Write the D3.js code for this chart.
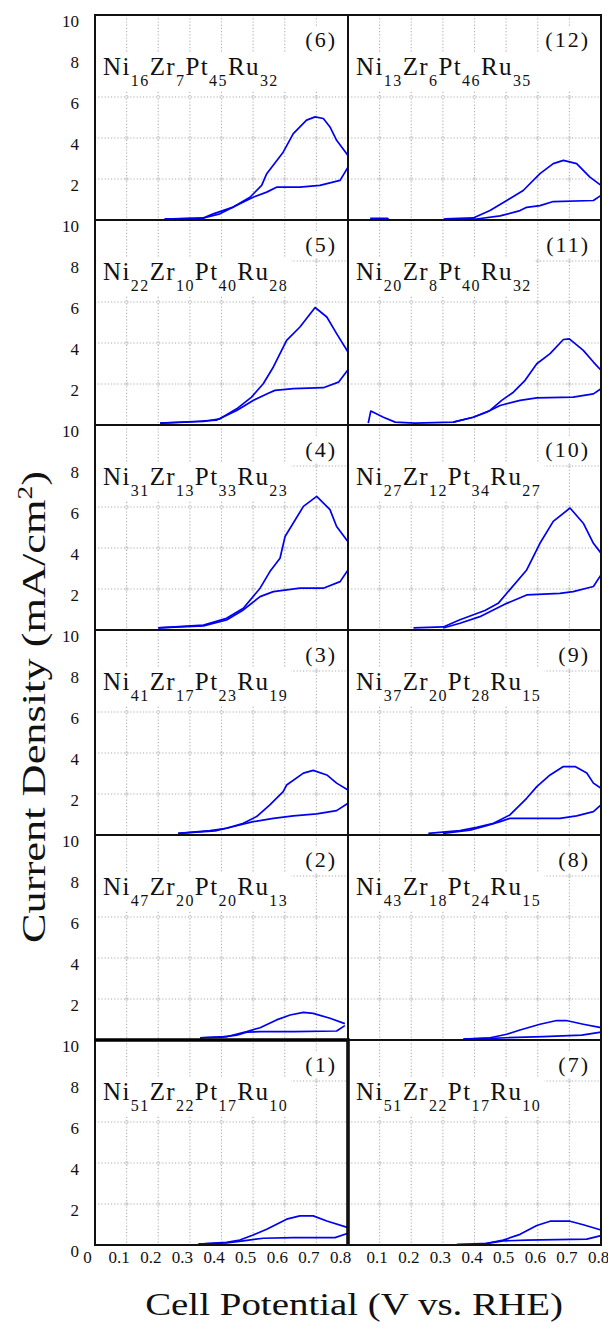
<!DOCTYPE html>
<html><head><meta charset="utf-8">
<script src="https://cdn.jsdelivr.net/npm/d3@7"></script>
<style>body{margin:0;background:#fff}svg{display:block}</style>
</head><body>
<svg id="chart" width="608" height="1328"></svg>
<script>
// ---------- data ----------
const xTickValues = [0, 0.1, 0.2, 0.3, 0.4, 0.5, 0.6, 0.7, 0.8];
const yTickValues = [0, 2, 4, 6, 8, 10];
const gridOrder = [[6, 12], [5, 11], [4, 10], [3, 9], [2, 8], [1, 7]];
const formulas = {
  1: "Ni51Zr22Pt17Ru10", 2: "Ni47Zr20Pt20Ru13", 3: "Ni41Zr17Pt23Ru19",
  4: "Ni31Zr13Pt33Ru23", 5: "Ni22Zr10Pt40Ru28", 6: "Ni16Zr7Pt45Ru32",
  7: "Ni51Zr22Pt17Ru10", 8: "Ni43Zr18Pt24Ru15", 9: "Ni37Zr20Pt28Ru15",
  10: "Ni27Zr12Pt34Ru27", 11: "Ni20Zr8Pt40Ru32", 12: "Ni13Zr6Pt46Ru35"
};
const xTitle = "Cell Potential (V vs. RHE)";
const yTitleMain = "Current Density (mA/cm";
const yTitleSup = "2";

// forward (anodic) and reverse scans: [potential V, current mA/cm2]
const p6Fwd = [[0.22,0.05],[0.34,0.08],[0.374,0.3],[0.437,0.63],[0.49,1.11],[0.527,1.69],[0.543,2.26],[0.595,3.31],[0.627,4.21],[0.669,4.87],[0.696,5.03],[0.722,4.95],[0.743,4.54],[0.764,3.89],[0.8,3.15]];
const p6Rev = [[0.8,2.58],[0.775,1.93],[0.711,1.69],[0.648,1.6],[0.574,1.6],[0.543,1.36],[0.5,1.11],[0.458,0.79],[0.395,0.3],[0.343,0.1],[0.22,0.05]];
const p5Fwd = [[0.206,0.09],[0.343,0.17],[0.395,0.3],[0.448,0.79],[0.495,1.36],[0.532,2.01],[0.564,2.83],[0.606,4.13],[0.648,4.78],[0.696,5.73],[0.733,5.27],[0.764,4.46],[0.8,3.56]];
const p5Rev = [[0.8,2.7],[0.77,2.09],[0.722,1.82],[0.627,1.77],[0.569,1.69],[0.548,1.55],[0.5,1.2],[0.448,0.71],[0.385,0.24],[0.311,0.17],[0.206,0.09]];
const p4Fwd = [[0.2,0.1],[0.343,0.24],[0.416,0.57],[0.469,1.06],[0.522,2.04],[0.553,2.85],[0.585,3.5],[0.601,4.56],[0.659,6.03],[0.701,6.52],[0.743,5.87],[0.764,5.05],[0.8,4.3]];
const p4Rev = [[0.8,2.93],[0.775,2.36],[0.722,2.04],[0.648,2.04],[0.564,1.87],[0.522,1.63],[0.469,0.98],[0.416,0.49],[0.343,0.2],[0.2,0.1]];
const p3Fwd = [[0.263,0.08],[0.364,0.21],[0.416,0.33],[0.469,0.57],[0.511,0.9],[0.553,1.47],[0.595,2.12],[0.606,2.44],[0.659,3.02],[0.69,3.15],[0.733,2.93],[0.764,2.53],[0.8,2.2]];
const p3Rev = [[0.8,1.55],[0.764,1.19],[0.701,1.03],[0.627,0.93],[0.564,0.81],[0.5,0.65],[0.448,0.45],[0.38,0.2],[0.263,0.08]];
const p2Fwd = [[0.332,0.11],[0.416,0.16],[0.48,0.41],[0.522,0.6],[0.574,0.98],[0.617,1.22],[0.659,1.35],[0.69,1.3],[0.743,1.06],[0.79,0.8]];
const p2Rev = [[0.79,0.7],[0.764,0.44],[0.627,0.41],[0.522,0.41],[0.48,0.38],[0.448,0.24],[0.4,0.14],[0.332,0.11]];
const p1Fwd = [[0.327,0.05],[0.416,0.13],[0.458,0.24],[0.5,0.49],[0.543,0.77],[0.606,1.26],[0.648,1.42],[0.69,1.42],[0.733,1.17],[0.8,0.85]];
const p1Rev = [[0.8,0.57],[0.759,0.36],[0.627,0.36],[0.532,0.33],[0.469,0.2],[0.416,0.1],[0.327,0.05]];
const p12Fwd = [[0.07,0.08],[0.125,0.08],[0.13,0],[0.3,0],[0.307,0.06],[0.396,0.1],[0.449,0.46],[0.502,0.95],[0.554,1.44],[0.607,2.26],[0.649,2.75],[0.681,2.91],[0.723,2.75],[0.765,2.09],[0.8,1.69]];
const p12Rev = [[0.8,1.2],[0.776,0.95],[0.649,0.9],[0.607,0.7],[0.565,0.62],[0.544,0.46],[0.481,0.2],[0.407,0.05],[0.307,0.06]];
const p11Fwd = [[0.064,0.09],[0.072,0.68],[0.112,0.38],[0.149,0.14],[0.212,0.09],[0.333,0.14],[0.396,0.38],[0.449,0.71],[0.486,1.2],[0.523,1.6],[0.56,2.18],[0.597,2.99],[0.639,3.48],[0.681,4.17],[0.7,4.2],[0.744,3.64],[0.776,3.07],[0.8,2.67]];
const p11Rev = [[0.8,1.77],[0.776,1.52],[0.712,1.36],[0.597,1.32],[0.544,1.2],[0.481,0.95],[0.438,0.62],[0.396,0.38],[0.333,0.14]];
const p10Fwd = [[0.207,0.1],[0.301,0.15],[0.354,0.5],[0.433,0.95],[0.475,1.3],[0.502,1.79],[0.565,2.93],[0.607,4.23],[0.649,5.3],[0.702,5.95],[0.744,5.21],[0.776,4.23],[0.8,3.75]];
const p10Rev = [[0.8,2.69],[0.776,2.12],[0.712,1.87],[0.67,1.79],[0.565,1.71],[0.502,1.3],[0.417,0.65],[0.354,0.33],[0.301,0.1]];
const p9Fwd = [[0.254,0.08],[0.354,0.21],[0.407,0.37],[0.46,0.57],[0.512,0.98],[0.565,1.79],[0.597,2.36],[0.639,2.93],[0.681,3.34],[0.718,3.34],[0.755,3.02],[0.776,2.53],[0.8,2.28]];
const p9Rev = [[0.8,1.47],[0.776,1.14],[0.723,0.93],[0.67,0.81],[0.512,0.81],[0.481,0.65],[0.438,0.45],[0.386,0.24],[0.3,0.08]];
const p8Fwd = [[0.365,0.05],[0.449,0.11],[0.502,0.28],[0.544,0.49],[0.607,0.77],[0.66,0.95],[0.69,0.95],[0.744,0.77],[0.8,0.6]];
const p8Rev = [[0.8,0.38],[0.739,0.24],[0.617,0.16],[0.502,0.11],[0.449,0.08],[0.365,0.05]];
const p7Fwd = [[0.344,0.02],[0.428,0.05],[0.491,0.24],[0.544,0.52],[0.597,0.95],[0.639,1.16],[0.702,1.16],[0.744,0.99],[0.8,0.73]];
const p7Rev = [[0.8,0.46],[0.755,0.29],[0.565,0.24],[0.491,0.2],[0.44,0.08],[0.344,0.02]];

const scans = {
  1:[p1Fwd,p1Rev], 2:[p2Fwd,p2Rev], 3:[p3Fwd,p3Rev], 4:[p4Fwd,p4Rev],
  5:[p5Fwd,p5Rev], 6:[p6Fwd,p6Rev], 7:[p7Fwd,p7Rev], 8:[p8Fwd,p8Rev],
  9:[p9Fwd,p9Rev], 10:[p10Fwd,p10Rev], 11:[p11Fwd,p11Rev], 12:[p12Fwd,p12Rev]
};

// ---------- layout ----------
const FONT = '"Liberation Serif", "Times New Roman", serif';
const LEFT = 95, TOP = 15, PW = 253, PH = 205;
const svg = d3.select("#chart");
const gridLayer = svg.append("g");
const boxLayer = svg.append("g");
const lineLayer = svg.append("g");
const frameLayer = svg.append("g");
const textLayer = svg.append("g").style("font-family", FONT);
const nRows = gridOrder.length;

gridOrder.forEach((rowIds, r) => rowIds.forEach((id, c) => {
  const x0 = LEFT + c * PW, y0 = TOP + r * PH;
  const x = d3.scaleLinear().domain([0, 0.8]).range([x0, x0 + PW]);
  const y = d3.scaleLinear().domain([0, 10]).range([y0 + PH, y0]);
  const vx = xTickValues.slice(1, -1), hy = yTickValues.slice(1, -1);

  gridLayer.append("g").selectAll("line").data(vx).join("line")
    .attr("x1", d => x(d)).attr("x2", d => x(d)).attr("y1", y0).attr("y2", y0 + PH)
    .attr("stroke", "#b0b0b0").attr("stroke-width", 1.1).attr("stroke-dasharray", "1.2,2");
  gridLayer.append("g").selectAll("line").data(hy).join("line")
    .attr("y1", d => y(d)).attr("y2", d => y(d)).attr("x1", x0).attr("x2", x0 + PW)
    .attr("stroke", "#b0b0b0").attr("stroke-width", 1.1).attr("stroke-dasharray", "1.2,2");
  const cross = [];
  vx.forEach(a => hy.forEach(b => cross.push([a, b])));
  gridLayer.append("g").selectAll("circle").data(cross).join("circle")
    .attr("cx", d => x(d[0])).attr("cy", d => y(d[1])).attr("r", 1.6)
    .attr("fill", "none").attr("stroke", "#d0d0d0").attr("stroke-width", 0.8);

  // composition label
  const lab = textLayer.append("text").attr("x", x0 + 8).attr("y", y0 + 60)
    .style("font-family", FONT).attr("fill", "#111").attr("letter-spacing", 1.4);
  const parts = [...formulas[id].matchAll(/([A-Z][a-z]?)(\d+)/g)];
  parts.forEach((m, i) => {
    lab.append("tspan").attr("font-size", 25).attr("dy", i === 0 ? 0 : -11).text(m[1]);
    lab.append("tspan").attr("font-size", 16).attr("dy", 11).text(m[2]);
  });
  const bb = lab.node().getBBox();
  boxLayer.append("rect").attr("x", x0 + 2).attr("y", y0 + 38)
    .attr("width", (r === 0 ? x0 + PW - 2 : bb.x + bb.width + 3) - (x0 + 2))
    .attr("height", 38).attr("fill", "#fff");

  // panel number
  const num = textLayer.append("text").attr("x", x0 + PW - 11).attr("y", y0 + 32)
    .attr("text-anchor", "end").style("font-family", FONT).attr("font-size", 22)
    .attr("letter-spacing", 2).attr("fill", "#111").text("(" + id + ")");
  const nb = num.node().getBBox();
  boxLayer.append("rect").attr("x", nb.x - 2).attr("y", y0 + 12)
    .attr("width", nb.width + 4).attr("height", 26).attr("fill", "#fff");

  // CV loop
  const line = d3.line().x(d => x(d[0])).y(d => y(d[1]));
  scans[id].forEach(s => lineLayer.append("path").datum(s).attr("d", line)
    .attr("fill", "none").attr("stroke", "#0000f0").attr("stroke-width", 1.7)
    .attr("stroke-linejoin", "round"));

  frameLayer.append("rect").attr("x", x0).attr("y", y0).attr("width", PW).attr("height", PH)
    .attr("fill", "none").attr("stroke", "#111").attr("stroke-width", 2);
  if (id === 1) {
    frameLayer.append("path").attr("d", `M${x0},${y0}H${x0 + PW}V${y0 + PH}`)
      .attr("fill", "none").attr("stroke", "#000").attr("stroke-width", 3.5);
  }

  if (c === 0) {
    const ya = textLayer.append("g").attr("transform", `translate(${x0},0)`)
      .call(d3.axisLeft(y).tickValues(r === nRows - 1 ? yTickValues : yTickValues.slice(1))
        .tickSize(0).tickPadding(16));
    ya.select(".domain").remove();
    ya.attr("font-family", null);
    ya.selectAll("text").style("font-family", FONT).attr("font-size", 17)
      .attr("fill", "#111").attr("dy", "0.68em");
  }
  if (r === nRows - 1) {
    const xa = textLayer.append("g").attr("transform", `translate(0,${y0 + PH})`)
      .call(d3.axisBottom(x).tickValues(c === 0 ? xTickValues : xTickValues.slice(1))
        .tickSize(0).tickPadding(6).tickFormat(d => d === 0 ? "0" : d3.format(".1f")(d)));
    xa.select(".domain").remove();
    xa.attr("font-family", null);
    xa.selectAll("text").style("font-family", FONT).attr("font-size", 17)
      .attr("fill", "#111").attr("dx", c === 0 ? -8 : -3);
  }
}));

// axis titles (glyphs stretched along the baseline to match the original's wide face)
const xt = textLayer.append("text").attr("x", 0).attr("y", 0)
  .attr("text-anchor", "middle").style("font-family", FONT).attr("font-size", 32)
  .attr("fill", "#111").text(xTitle);
const xs = 418 / xt.node().getBBox().width;
xt.attr("transform", `translate(354,1315) scale(${xs},1)`);

const yt = textLayer.append("text").attr("x", 0).attr("y", 0)
  .attr("text-anchor", "middle").style("font-family", FONT).attr("font-size", 34).attr("fill", "#111");
yt.append("tspan").text(yTitleMain);
yt.append("tspan").attr("font-size", 21).attr("dy", -13).text(yTitleSup);
yt.append("tspan").attr("dy", 13).text(")");
const ys = 472 / yt.node().getBBox().width;
yt.attr("transform", `translate(45,707) rotate(-90) scale(${ys},1)`);
</script>
</body></html>
